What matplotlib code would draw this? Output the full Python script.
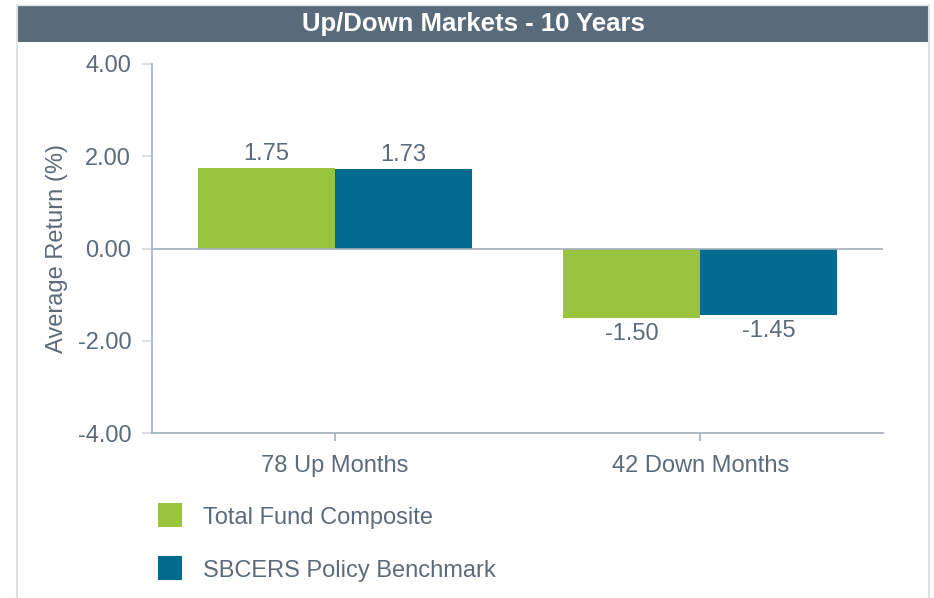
import matplotlib.pyplot as plt
from matplotlib.patches import Rectangle
import numpy as np

categories = ["78 Up Months", "42 Down Months"]
series_names = ["Total Fund Composite", "SBCERS Policy Benchmark"]
fund_values = [1.75, -1.50]
bench_values = [1.73, -1.45]
yticks = [-4.0, -2.0, 0.0, 2.0, 4.0]

green = "#9bc43e"
blue = "#006b8f"
text_col = "#5b6b7b"
axis_col = "#a3afbb"

plt.rcParams['font.family'] = ['Liberation Sans', 'DejaVu Sans']

W, H = 934, 598
fig = plt.figure(figsize=(W / 100, H / 100), dpi=100)


def fx(px):
    return px / W


def fy(py):
    return 1 - py / H


# frame and title bar
fig.add_artist(Rectangle((fx(17), fy(42)), fx(911), 37 / H, transform=fig.transFigure,
                         facecolor="#596a7a", edgecolor="none"))
fig.add_artist(plt.Line2D([fx(17), fx(17)], [fy(5), 0], transform=fig.transFigure,
                          color="#dde2e7", lw=1.5))
fig.add_artist(plt.Line2D([fx(929), fx(929)], [fy(5), 0], transform=fig.transFigure,
                          color="#dde2e7", lw=1.5))
fig.add_artist(plt.Line2D([fx(17), fx(929)], [fy(5), fy(5)], transform=fig.transFigure,
                          color="#dde2e7", lw=1.0))
fig.text(fx(473), fy(24), "Up/Down Markets - 10 Years", color="white", fontsize=18.5,
         fontweight="bold", ha="center", va="center")

fs = 17
ax = fig.add_axes([fx(152), fy(433), 731 / W, (433 - 64) / H])
x = np.arange(len(categories))
bw = 0.375
b1 = ax.bar(x - bw / 2, fund_values, bw, color=green, label=series_names[0])
b2 = ax.bar(x + bw / 2, bench_values, bw, color=blue, label=series_names[1])

ax.set_xlim(-0.5, 1.5)
ax.set_ylim(-4, 4)
ax.set_yticks(yticks)
ax.set_yticklabels([f"{v:.2f}" for v in yticks])
ax.set_xticks(x)
ax.set_xticklabels(categories)
ax.axhline(0, color=axis_col, lw=1.2)

for s in ["top", "right"]:
    ax.spines[s].set_visible(False)
for s in ["left", "bottom"]:
    ax.spines[s].set_color(axis_col)
    ax.spines[s].set_linewidth(1.2)

ax.tick_params(axis="y", length=7, width=1.5, color="#dde1e5", pad=8,
               labelsize=fs, labelcolor=text_col)
ax.tick_params(axis="x", length=6, width=1.2, color=axis_col, pad=9.5,
               labelsize=fs, labelcolor=text_col)
ax.set_ylabel("Average Return (%)", fontsize=fs, color=text_col, labelpad=7)

for bars, vals in [(b1, fund_values), (b2, bench_values)]:
    for rect, v in zip(bars, vals):
        cx = rect.get_x() + rect.get_width() / 2
        if v >= 0:
            ax.annotate(f"{v:.2f}", (cx, v), xytext=(0, 2), textcoords="offset points",
                        ha="center", va="bottom", fontsize=fs, color=text_col)
        else:
            ax.annotate(f"{v:.2f}", (cx, v), xytext=(0, -3.5), textcoords="offset points",
                        ha="center", va="top", fontsize=fs, color=text_col)

# legend drawn by hand below the axes
for i, (name, col) in enumerate(zip(series_names, [green, blue])):
    cy = 515 + 53 * i
    fig.add_artist(Rectangle((fx(158), fy(cy + 12)), fx(24), 24 / H, transform=fig.transFigure,
                             facecolor=col, edgecolor="none"))
    fig.text(fx(203), fy(cy + 3), name, fontsize=fs, color=text_col, ha="left", va="center")

plt.savefig("out.png", dpi=100)
